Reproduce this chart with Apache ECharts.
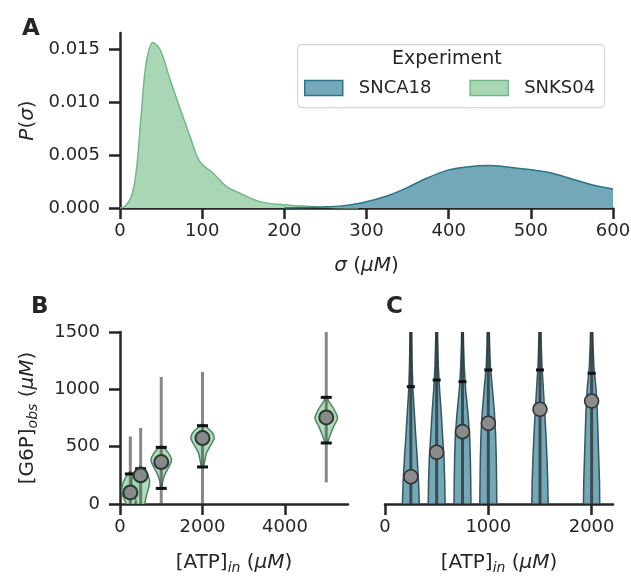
<!DOCTYPE html>
<html><head><meta charset="utf-8">
<script src="https://cdn.jsdelivr.net/npm/echarts@6/dist/echarts.min.js"></script>
<style>html,body{margin:0;padding:0;background:#fff}#c{width:631px;height:576px}</style>
</head><body><div id="c"></div>
<script>
// ---------- Panel A: KDE of sigma ----------
const sigmaSNKS04 = [0, 6, 14, 20, 26, 32, 40, 49, 61, 73, 85, 97, 113, 130, 146, 170, 199, 230, 260, 290];
const densitySNKS04 = [0, 0.00015, 0.0011, 0.0036, 0.0090, 0.0137, 0.0156, 0.0149, 0.0121, 0.0094, 0.0068, 0.0044, 0.0033, 0.0020, 0.0014, 0.0006, 0.0003, 0.00015, 0.00005, 0];
const sigmaSNCA18 = [200, 246, 270, 295, 324, 349, 373, 398, 422, 449, 471, 501, 525, 550, 574, 600];
const densitySNCA18 = [0, 0.0001, 0.0002, 0.0005, 0.0011, 0.0019, 0.0028, 0.00355, 0.00387, 0.0040, 0.00387, 0.0036, 0.0033, 0.00273, 0.0022, 0.0018];
const aYTicks = [0, 0.005, 0.010, 0.015];

// ---------- Panel B: SNKS04 ----------
const bX = [250, 500, 1000, 2000, 5000];
const bMedian = [101, 250, 366, 575, 755];
const bCapHigh = [262, 308, 494, 683, 930];
const bCapLow = [null, null, 136, 323, 532];
const bLineHigh = [589, 663, 1108, 1151, 1500];
const bLineLow = [-100, -100, -100, -100, 188];
const bViolinY = [
  [280, 241, 183, 110, 52, 0, -40],
  [325, 299, 256, 197, 140, 81, 0, -40],
  [505, 459, 386, 314, 256, 197, 136],
  [695, 663, 619, 575, 532, 488, 445, 386, 328],
  [940, 895, 837, 750, 677, 604, 532]
];
const bViolinW = [
  [12, 97, 177, 211, 162, 97, 48],
  [12, 97, 170, 218, 194, 145, 97, 48],
  [12, 145, 250, 170, 85, 36, 12],
  [12, 121, 242, 284, 230, 158, 97, 61, 24],
  [12, 61, 170, 274, 182, 97, 24]
];
const bXTicks = [0, 2000, 4000];

// ---------- Panel C: SNCA18 ----------
const cX = [250, 500, 750, 1000, 1500, 2000];
const cMedian = [238, 451, 631, 704, 826, 898];
const cCapHigh = [1023, 1081, 1067, 1169, 1169, 1140];
const cLineHigh = [1700, 1700, 1700, 1700, 1700, 1700];
const cLineLow = [-100, -100, -100, -100, -100, -100];
const cViolinY = [0, 200, 400, 600, 800, 1000, 1200, 1400, 1600];
const cViolinW = [
  [82, 74, 62, 47, 34, 20, 13, 9, 6],
  [82, 78, 71, 57, 44, 28, 16, 10, 6],
  [82, 80, 76, 69, 52, 30, 17, 10, 6],
  [82, 80, 77, 71, 59, 40, 20, 12, 7],
  [79, 75, 68, 58, 46, 33, 19, 12, 7],
  [79, 76, 69, 62, 55, 43, 22, 13, 8]
];
const cXTicks = [0, 1000, 2000];

const FONT = 'DejaVu Sans';
const INK = '#262626';
const TEAL_FILL = '#72a8b7', TEAL_EDGE = '#2a7487';
const GREEN_FILL = '#a9d7b5', GREEN_EDGE = '#72b88a';

function axisCommon(extra) {
  return Object.assign({
    type: 'value',
    splitLine: { show: false },
    axisLine: { show: true, lineStyle: { color: INK, width: 2.5 } },
    axisTick: { show: true, length: 11, lineStyle: { color: INK, width: 2.5 } },
    axisLabel: { fontSize: 18, color: INK, fontFamily: FONT, formatter: v => String(v) },
    nameTextStyle: { fontSize: 20, color: INK, fontFamily: FONT },
    nameMoveOverlap: false
  }, extra);
}
const richName = {
  n: { fontSize: 20, color: INK, fontFamily: FONT, lineHeight: 24 },
  i: { fontSize: 20, color: INK, fontFamily: FONT, fontStyle: 'italic', lineHeight: 24 },
  s: { fontSize: 14, color: INK, fontFamily: FONT, fontStyle: 'italic', lineHeight: 24, verticalAlign: 'bottom' }
};

function violinSeries(grid, xs, ysArr, wsArr, fill, edge, shared, smooth) {
  return {
    type: 'custom', xAxisIndex: grid, yAxisIndex: grid, clip: true, z: 2,
    data: xs.map((x, i) => [x, 0]),
    encode: { x: 0, y: 1 },
    renderItem: function (params, api) {
      const i = params.dataIndex;
      const x = xs[i];
      const Y = shared ? ysArr : ysArr[i];
      const W = wsArr[i];
      const left = [], right = [];
      for (let k = 0; k < Y.length; k++) {
        left.push(api.coord([x - W[k], Y[k]]));
        right.push(api.coord([x + W[k], Y[k]]));
      }
      const pts = left.concat(right.reverse());
      return { type: 'polygon', shape: { points: pts, smooth: smooth },
        style: { fill: fill, stroke: edge, lineWidth: 1.5 } };
    }
  };
}
function intervalSeries(grid, xs, low, high, capLow, capHigh, lineColor, capHalf) {
  return {
    type: 'custom', xAxisIndex: grid, yAxisIndex: grid, clip: true, z: 3,
    data: xs.map((x, i) => [x, high[i]]),
    encode: { x: 0, y: 1 },
    renderItem: function (params, api) {
      const i = params.dataIndex;
      const x = xs[i];
      const p1 = api.coord([x, low[i]]), p2 = api.coord([x, high[i]]);
      const children = [{ type: 'line', shape: { x1: p1[0], y1: p1[1], x2: p2[0], y2: p2[1] },
        style: { stroke: lineColor, lineWidth: 3 } }];
      [capLow[i], capHigh[i]].forEach(v => {
        if (v === null || v === undefined) return;
        const c = api.coord([x, v]);
        children.push({ type: 'line', shape: { x1: c[0] - capHalf, y1: c[1], x2: c[0] + capHalf, y2: c[1] },
          style: { stroke: '#111', lineWidth: 3 } });
      });
      return { type: 'group', children: children };
    }
  };
}

const chart = echarts.init(document.getElementById('c'), null, { renderer: 'canvas' });
chart.setOption({
  animation: false,
  backgroundColor: '#fff',
  textStyle: { fontFamily: FONT },
  grid: [
    { left: 120, right: 18, top: 33, height: 175, outerBoundsMode: 'none', containLabel: false },
    { left: 120, width: 228, top: 332, height: 172, outerBoundsMode: 'none', containLabel: false },
    { left: 385, width: 228, top: 332, height: 172, outerBoundsMode: 'none', containLabel: false }
  ],
  xAxis: [
    axisCommon({ gridIndex: 0, min: 0, max: 600, interval: 100,
      name: '{i|σ}{n| (}{i|μM}{n|)}', nameLocation: 'middle', nameGap: 46,
      nameTextStyle: { rich: richName },
      axisLabel: { fontSize: 18, color: INK, fontFamily: FONT, margin: 14, formatter: v => String(v) } }),
    axisCommon({ gridIndex: 1, min: 0, max: 5527,
      name: '{n|[ATP]}{s|in}{n| (}{i|μM}{n|)}', nameLocation: 'middle', nameGap: 47,
      nameTextStyle: { rich: richName },
      axisTick: { show: true, length: 11, lineStyle: { color: INK, width: 2.5 }, customValues: bXTicks },
      axisLabel: { fontSize: 18, color: INK, fontFamily: FONT, margin: 14, customValues: bXTicks, formatter: v => String(v) } }),
    axisCommon({ gridIndex: 2, min: 0, max: 2207,
      name: '{n|[ATP]}{s|in}{n| (}{i|μM}{n|)}', nameLocation: 'middle', nameGap: 47,
      nameTextStyle: { rich: richName },
      axisTick: { show: true, length: 11, lineStyle: { color: INK, width: 2.5 }, customValues: cXTicks },
      axisLabel: { fontSize: 18, color: INK, fontFamily: FONT, margin: 14, customValues: cXTicks, formatter: v => String(v) } })
  ],
  yAxis: [
    axisCommon({ gridIndex: 0, min: 0, max: 0.0165,
      name: '{i|P}{n|(}{i|σ}{n|)}', nameLocation: 'middle', nameGap: 80,
      nameTextStyle: { rich: richName },
      axisTick: { show: true, length: 11, lineStyle: { color: INK, width: 2.5 }, customValues: aYTicks },
      axisLabel: { fontSize: 18, color: INK, fontFamily: FONT, margin: 20, customValues: aYTicks, formatter: v => v.toFixed(3) } }),
    axisCommon({ gridIndex: 1, min: 0, max: 1500, interval: 500,
      name: '{n|[G6P]}{s|obs}{n| (}{i|μM}{n|)}', nameLocation: 'middle', nameGap: 80,
      nameTextStyle: { rich: richName },
      axisLabel: { fontSize: 18, color: INK, fontFamily: FONT, margin: 20, formatter: v => String(v) } }),
    { type: 'value', gridIndex: 2, min: 0, max: 1500, show: false, splitLine: { show: false } }
  ],
  legend: {
    left: 304, top: 79, padding: 0, itemGap: 38, itemWidth: 38, itemHeight: 15, icon: 'rect', z: 10,
    textStyle: { fontSize: 18, color: INK, fontFamily: FONT, padding: [0, 0, 0, 11] },
    data: [
      { name: 'SNCA18', itemStyle: { color: TEAL_FILL, borderColor: TEAL_EDGE, borderWidth: 1.5 } },
      { name: 'SNKS04', itemStyle: { color: GREEN_FILL, borderColor: GREEN_EDGE, borderWidth: 1.5 } }
    ]
  },
  graphic: [
    { type: 'rect', left: 297, top: 44, z: 5, shape: { width: 307, height: 63, r: 4 },
      style: { fill: 'rgba(255,255,255,0.85)', stroke: '#d6d6d6', lineWidth: 1.2 } },
    { type: 'text', left: 392, top: 50, z: 11, style: { text: 'Experiment', fontSize: 19, fill: INK, fontFamily: FONT } },
    { type: 'text', left: 22, top: 18, style: { text: 'A', fontSize: 23, fontWeight: 'bold', fill: INK, fontFamily: FONT } },
    { type: 'text', left: 31, top: 296, style: { text: 'B', fontSize: 23, fontWeight: 'bold', fill: INK, fontFamily: FONT } },
    { type: 'text', left: 386, top: 296, style: { text: 'C', fontSize: 23, fontWeight: 'bold', fill: INK, fontFamily: FONT } }
  ],
  series: [
    { name: 'SNCA18', type: 'line', xAxisIndex: 0, yAxisIndex: 0, symbol: 'none', smooth: 0.35,
      data: sigmaSNCA18.map((s, i) => [s, densitySNCA18[i]]),
      lineStyle: { color: TEAL_EDGE, width: 1.5 }, itemStyle: { color: TEAL_FILL },
      areaStyle: { color: TEAL_FILL, opacity: 1 }, z: 3 },
    { name: 'SNKS04', type: 'line', xAxisIndex: 0, yAxisIndex: 0, symbol: 'none', smooth: 0.35,
      data: sigmaSNKS04.map((s, i) => [s, densitySNKS04[i]]),
      lineStyle: { color: GREEN_EDGE, width: 1.5 }, itemStyle: { color: GREEN_FILL },
      areaStyle: { color: GREEN_FILL, opacity: 1 }, z: 2 },

    violinSeries(1, bX, bViolinY, bViolinW, 'rgba(160,214,176,0.85)', '#4f8562', false, 0.3),
    intervalSeries(1, bX, bLineLow, bLineHigh, bCapLow, bCapHigh, 'rgba(70,70,70,0.65)', 5.5),
    { type: 'scatter', xAxisIndex: 1, yAxisIndex: 1, symbolSize: 14, z: 5,
      data: bX.map((x, i) => [x, bMedian[i]]),
      itemStyle: { color: '#8a8a8a', borderColor: '#2b3a31', borderWidth: 2, opacity: 1 } },

    violinSeries(2, cX, cViolinY, cViolinW, TEAL_FILL, '#36555e', true, 0),
    intervalSeries(2, cX, cLineLow, cLineHigh, cX.map(() => null), cCapHigh, 'rgba(45,45,45,0.75)', 4),
    { type: 'scatter', xAxisIndex: 2, yAxisIndex: 2, symbolSize: 14, z: 5,
      data: cX.map((x, i) => [x, cMedian[i]]),
      itemStyle: { color: '#8c8c8c', borderColor: '#333', borderWidth: 1.6, opacity: 1 } }
  ]
});
</script>
</body></html>
